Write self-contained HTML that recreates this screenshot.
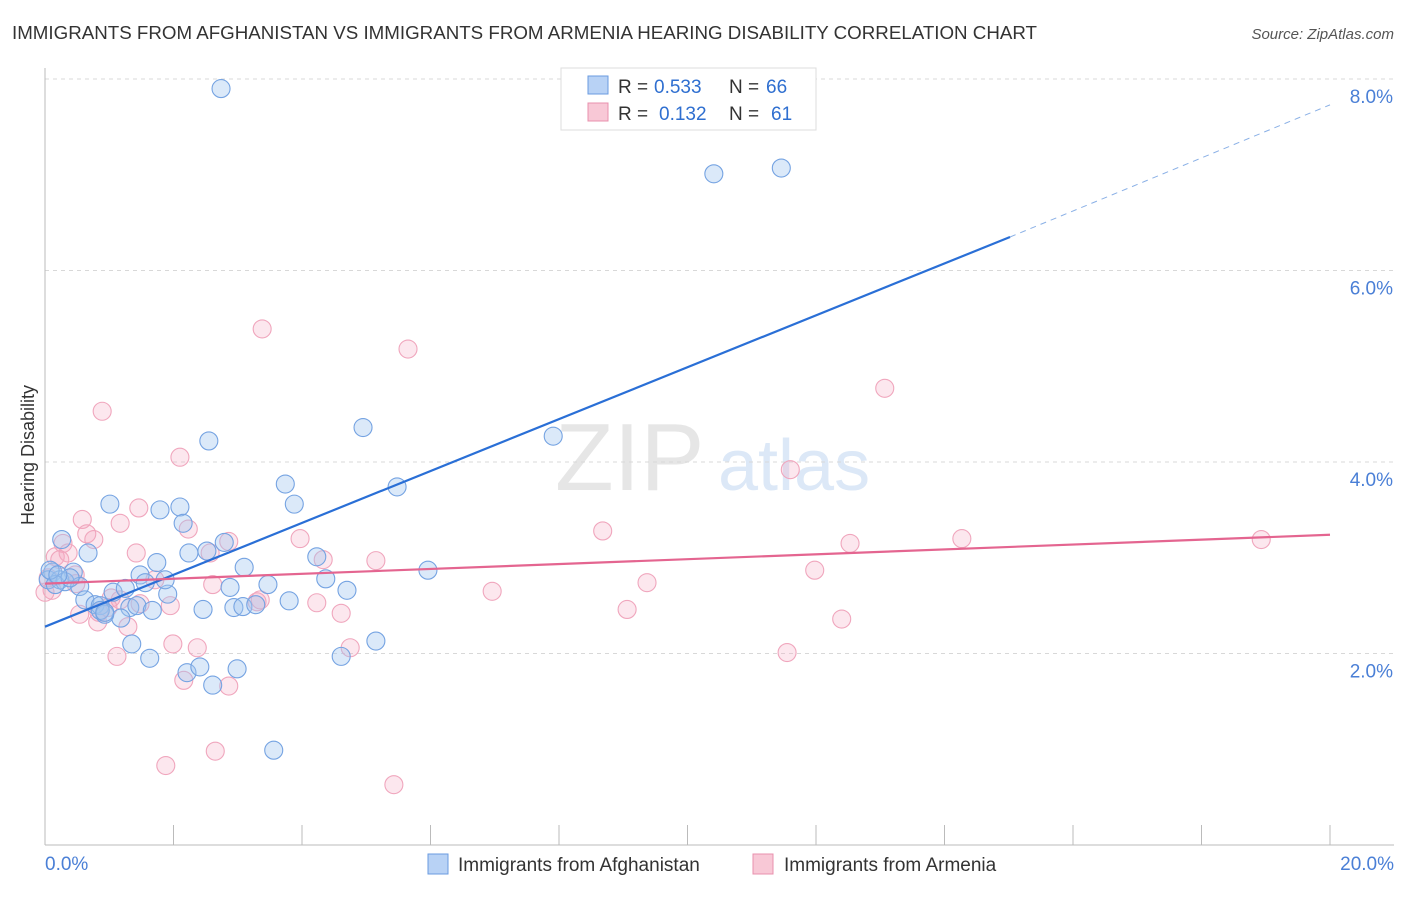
<!DOCTYPE html>
<html><head><meta charset="utf-8"><style>
body{margin:0;background:#fff;font-family:"Liberation Sans",sans-serif;}
svg text{font-family:"Liberation Sans",sans-serif;}
</style></head><body>
<svg id="chart" width="1406" height="892" xmlns="http://www.w3.org/2000/svg">
<text x="12" y="39" font-size="18" fill="#333" textLength="1025" lengthAdjust="spacingAndGlyphs">IMMIGRANTS FROM AFGHANISTAN VS IMMIGRANTS FROM ARMENIA HEARING DISABILITY CORRELATION CHART</text>
<text x="1394" y="39" font-size="15" fill="#555" font-style="italic" text-anchor="end">Source: ZipAtlas.com</text>
<text x="34" y="455" font-size="18" fill="#333" transform="rotate(-90 34 455)" text-anchor="middle">Hearing Disability</text>
<text x="555" y="490" font-size="96" fill="#e6e6e6" font-family="Liberation Serif">ZIP</text>
<text x="718" y="490" font-size="72" fill="#dce8f7">atlas</text>
<g id="grid"></g>
<g id="axes"></g>
<g id="pts"></g>
<g id="lines"></g>
<g>
<rect x="561" y="68" width="255" height="62" fill="#fff" stroke="#ddd"/>
<rect x="588" y="76" width="20" height="18" fill="#b8d2f5" stroke="#6a9be0"/>
<rect x="588" y="103" width="20" height="18" fill="#f8c8d6" stroke="#e890ad"/>
<text x="618" y="93" font-size="19" fill="#333">R =</text>
<text x="654" y="93" font-size="19" fill="#2f6fd0">0.533</text>
<text x="729" y="93" font-size="19" fill="#333">N =</text>
<text x="766" y="93" font-size="19" fill="#2f6fd0">66</text>
<text x="618" y="120" font-size="19" fill="#333">R =</text>
<text x="659" y="120" font-size="19" fill="#2f6fd0">0.132</text>
<text x="729" y="120" font-size="19" fill="#333">N =</text>
<text x="771" y="120" font-size="19" fill="#2f6fd0">61</text>
</g>
<g>
<rect x="428" y="854" width="20" height="20" fill="#b8d2f5" stroke="#6a9be0"/>
<text x="458" y="871" font-size="19" fill="#333">Immigrants from Afghanistan</text>
<rect x="753" y="854" width="20" height="20" fill="#f8c8d6" stroke="#e890ad"/>
<text x="784" y="871" font-size="19" fill="#333">Immigrants from Armenia</text>
</g>
</svg>
<script>
const blueXY=[[221,89],[714,174],[781,168],[209,441],[363,428],[553,436],[110,504],[180,507],[160,510],[285,484],[294,504],[397,487],[183,523],[62,540],[88,553],[189,553],[207,551],[224,542],[317,557],[244,567],[157,563],[73,572],[53,572],[428,570],[326,579],[48,580],[60,580],[65,582],[80,586],[140,575],[145,583],[268,585],[230,587],[347,590],[168,594],[113,592],[125,588],[85,600],[95,605],[100,606],[130,608],[137,606],[152,610],[203,609],[234,608],[243,607],[256,605],[289,601],[121,618],[105,614],[132,644],[150,658],[187,673],[200,667],[237,669],[213,685],[341,656],[376,641],[274,750],[55,585],[50,570],[70,578],[58,575],[100,610],[105,612],[165,580]];
const pinkXY=[[262,329],[408,349],[885,388],[102,411],[180,457],[790,470],[82,519],[120,523],[139,508],[87,534],[188,529],[94,540],[63,543],[603,531],[850,543],[962,539],[1261,540],[300,539],[229,541],[136,553],[55,557],[68,553],[210,553],[323,560],[376,561],[815,570],[48,578],[52,590],[45,592],[76,584],[155,580],[213,585],[647,583],[492,591],[111,598],[140,604],[170,606],[257,602],[317,603],[627,609],[341,613],[80,614],[99,612],[128,627],[98,622],[842,619],[173,644],[197,648],[350,648],[117,656],[787,653],[184,680],[229,686],[215,751],[166,766],[394,785],[75,575],[60,560],[120,600],[108,608],[260,600]];
// data values (% units) derived from reading the picture
const afghanX=blueXY.map(p=>+((p[0]-45)/64.25).toFixed(2));
const afghanY=blueXY.map(p=>+((845-p[1])/95.75).toFixed(2));
const armeniaX=pinkXY.map(p=>+((p[0]-45)/64.25).toFixed(2));
const armeniaY=pinkXY.map(p=>+((845-p[1])/95.75).toFixed(2));
const yTicks=[2,4,6,8];
const xTickVals=[0,2,4,6,8,10,12,14,16,18,20];
const blueTrend=[[0,2.28],[15.02,6.35],[20,7.73]];
const pinkTrend=[[0,2.73],[20,3.24]];
const sx=v=>45+v*64.25, sy=v=>845-v*95.75;
const NS="http://www.w3.org/2000/svg";
function mk(t,a,parent){const e=document.createElementNS(NS,t);for(const k in a)e.setAttribute(k,a[k]);document.getElementById(parent).appendChild(e);return e;}
yTicks.forEach(v=>{
 const l=mk('line',{x1:45,x2:1394,y1:sy(v),y2:sy(v),stroke:'#d8d8d8','stroke-dasharray':'4,4'},'grid');
 
 
 const t=mk('text',{x:1393,y:sy(v)+24,'font-size':19,fill:'#4a7fd6','text-anchor':'end'},'grid');
 t.textContent=v.toFixed(1)+'%';
 
 
});
let ax=mk('line',{x1:45,x2:45,y1:68,y2:845,stroke:'#bbb'},'axes');


ax=mk('line',{x1:45,x2:1394,y1:845,y2:845,stroke:'#bbb'},'axes');


xTickVals.forEach(v=>{
 const l=mk('line',{x1:sx(v),x2:sx(v),y1:825,y2:845,stroke:'#bbb'},'axes');
 
 
});
[[0,'0.0%','start',45],[20,'20.0%','end',1394]].forEach(d=>{
 const t=mk('text',{x:d[3],y:870,'font-size':19,fill:'#4a7fd6','text-anchor':d[2]},'axes');
 t.textContent=d[1];
 
 
});
armeniaX.forEach((x,i)=>{
 const c=mk('circle',{cx:sx(x),cy:sy(armeniaY[i]),r:9,fill:'rgba(245,170,195,0.28)',stroke:'#f0a6bd','stroke-width':1.1},'pts');
 
 
});
afghanX.forEach((x,i)=>{
 const c=mk('circle',{cx:sx(x),cy:sy(afghanY[i]),r:9,fill:'rgba(160,196,240,0.38)',stroke:'#75a3e2','stroke-width':1.1},'pts');
 
 
});
let tl=mk('line',{x1:sx(blueTrend[0][0]),y1:sy(blueTrend[0][1]),x2:sx(blueTrend[1][0]),y2:sy(blueTrend[1][1]),stroke:'#2a6fd6','stroke-width':2.2},'lines');


tl=mk('line',{x1:sx(blueTrend[1][0]),y1:sy(blueTrend[1][1]),x2:sx(blueTrend[2][0]),y2:sy(blueTrend[2][1]),stroke:'#8ab0e6','stroke-width':1,'stroke-dasharray':'6,5'},'lines');


tl=mk('line',{x1:sx(pinkTrend[0][0]),y1:sy(pinkTrend[0][1]),x2:sx(pinkTrend[1][0]),y2:sy(pinkTrend[1][1]),stroke:'#e46590','stroke-width':2.2},'lines');


</script>
</body></html>
